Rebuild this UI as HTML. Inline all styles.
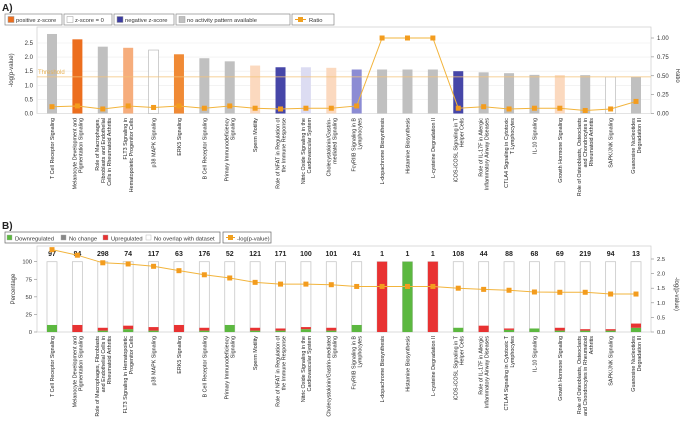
<!DOCTYPE html>
<html><head><meta charset="utf-8"><style>
body{margin:0;background:#fff;width:680px;height:437px;overflow:hidden;font-family:"Liberation Sans",sans-serif}
svg text{font-family:"Liberation Sans",sans-serif}
</style></head><body>
<svg id="fig" width="680" height="437" viewBox="0 0 680 437" xmlns="http://www.w3.org/2000/svg">
<text x="2" y="11" font-size="10" font-weight="bold" fill="#222">A)</text>
<text x="2" y="229" font-size="10" font-weight="bold" fill="#222">B)</text>
<g id="legA"></g>
<g id="legB"></g>
<g id="chartA"></g>
<g id="chartB"></g>
</svg>
<script>
const categories=["T Cell Receptor Signaling","Melanocyte Development and Pigmentation Signaling","Role of Macrophages, Fibroblasts and Endothelial Cells in Rheumatoid Arthritis","FLT3 Signaling in Hematopoietic Progenitor Cells","p38 MAPK Signaling","ERK5 Signaling","B Cell Receptor Signaling","Primary Immunodeficiency Signaling","Sperm Motility","Role of NFAT in Regulation of the Immune Response","Nitric Oxide Signaling in the Cardiovascular System","Cholecystokinin/Gastrin-mediated Signaling","FcγRIIB Signaling in B Lymphocytes","L-dopachrome Biosynthesis","Histamine Biosynthesis","L-cysteine Degradation II","iCOS-iCOSL Signaling in T Helper Cells","Role of IL-17F in Allergic Inflammatory Airway Diseases","CTLA4 Signaling in Cytotoxic T Lymphocytes","IL-10 Signaling","Growth Hormone Signaling","Role of Osteoblasts, Osteoclasts and Chondrocytes in Rheumatoid Arthritis","SAPK/JNK Signaling","Guanosine Nucleotides Degradation III"];
const labelLinesA=[["T Cell Receptor Signaling"],["Melanocyte Development and","Pigmentation Signaling"],["Role of Macrophages,","Fibroblasts and Endothelial","Cells in Rheumatoid Arthritis"],["FLT3 Signaling in","Hematopoietic Progenitor Cells"],["p38 MAPK Signaling"],["ERK5 Signaling"],["B Cell Receptor Signaling"],["Primary Immunodeficiency","Signaling"],["Sperm Motility"],["Role of NFAT in Regulation of","the Immune Response"],["Nitric Oxide Signaling in the","Cardiovascular System"],["Cholecystokinin/Gastrin-","mediated Signaling"],["FcγRIIB Signaling in B","Lymphocytes"],["L-dopachrome Biosynthesis"],["Histamine Biosynthesis"],["L-cysteine Degradation II"],["iCOS-iCOSL Signaling in T","Helper Cells"],["Role of IL-17F in Allergic","Inflammatory Airway Diseases"],["CTLA4 Signaling in Cytotoxic","T Lymphocytes"],["IL-10 Signaling"],["Growth Hormone Signaling"],["Role of Osteoblasts, Osteoclasts","and Chondrocytes in","Rheumatoid Arthritis"],["SAPK/JNK Signaling"],["Guanosine Nucleotides","Degradation III"]];
const labelLinesB=[["T Cell Receptor Signaling"],["Melanocyte Development and","Pigmentation Signaling"],["Role of Macrophages, Fibroblasts","and Endothelial Cells in","Rheumatoid Arthritis"],["FLT3 Signaling in Hematopoietic","Progenitor Cells"],["p38 MAPK Signaling"],["ERK5 Signaling"],["B Cell Receptor Signaling"],["Primary Immunodeficiency","Signaling"],["Sperm Motility"],["Role of NFAT in Regulation of","the Immune Response"],["Nitric Oxide Signaling in the","Cardiovascular System"],["Cholecystokinin/Gastrin-mediated","Signaling"],["FcγRIIB Signaling in B","Lymphocytes"],["L-dopachrome Biosynthesis"],["Histamine Biosynthesis"],["L-cysteine Degradation II"],["iCOS-iCOSL Signaling in T","Helper Cells"],["Role of IL-17F in Allergic","Inflammatory Airway Diseases"],["CTLA4 Signaling in Cytotoxic T","Lymphocytes"],["IL-10 Signaling"],["Growth Hormone Signaling"],["Role of Osteoblasts, Osteoclasts","and Chondrocytes in Rheumatoid","Arthritis"],["SAPK/JNK Signaling"],["Guanosine Nucleotides","Degradation III"]];
const logP=[2.82,2.63,2.37,2.33,2.25,2.1,1.96,1.85,1.7,1.64,1.64,1.62,1.56,1.56,1.56,1.56,1.5,1.46,1.43,1.37,1.36,1.36,1.3,1.3];
const ratio=[0.09,0.1,0.06,0.1,0.08,0.1,0.07,0.1,0.07,0.06,0.07,0.07,0.1,1.0,1.0,1.0,0.07,0.09,0.06,0.07,0.07,0.04,0.06,0.16];
const zCategory=["na","pos3","na","pos1","zero","pos2","na","na","pos0","neg2","neg0","pos0","neg1","na","na","na","neg2","na","na","na","pos0","na","zero","na"];
const threshold=1.3;
const leftTicksA=[0,0.5,1,1.5,2,2.5];
const rightTicksA=[0,0.25,0.5,0.75,1];
const downPct=[10,0,2,4,2,0,2,10,2,2,4,2,10,0,100,0,6,0,3,5,2,2,2,6];
const upPct=[0,10,4,5,5,10,4,0,4,3,3,4,0,100,0,100,0,9,2,0,4,2,2,6];
const totals=[97,84,298,74,117,63,176,52,121,171,100,101,41,1,1,1,108,44,88,68,69,219,94,13];
const pctTicks=[0,25,50,75,100];
const rightTicksB=[0,0.5,1,1.5,2,2.5];

const NS="http://www.w3.org/2000/svg";
function mk(parent,tag,attrs,text){const e=document.createElementNS(NS,tag);for(const k in attrs)e.setAttribute(k,attrs[k]);if(text!==undefined)e.textContent=text;parent.appendChild(e);return e;}
const colors={na:"#c0c0c0",zero:"#ffffff",pos0:"#fbd9bf",pos1:"#f6ad7c",pos2:"#f08a35",pos3:"#ec6e1e",neg0:"#dcdcf2",neg1:"#8c8cd4",neg2:"#4646a8"};
const X0=37,X1=651;
function xPos(i){return 52+i*(636-52)/(categories.length-1);}

const legA=document.getElementById('legA');
const legItemsA=[["positive z-score",5,62,"#ec6e1e"],["z-score = 0",64,112,"#fff"],["negative z-score",114,174,"#3c3ca0"],["no activity pattern available",176,290,"#c0c0c0"]];
legItemsA.forEach(function(it){
 const g=mk(legA,'g',{});
 
 
 mk(g,'rect',{x:it[1],y:14,width:it[2]-it[1],height:11,fill:'#fff',stroke:'#888','stroke-width':0.7});
 mk(g,'rect',{x:it[1]+3,y:16.5,width:6,height:6,fill:it[3],stroke:'#999','stroke-width':0.5});
 mk(g,'text',{x:it[1]+11,y:22.2,'font-size':5.8,fill:'#333'},it[0]);
});
(function(){const g=mk(legA,'g',{});
 
 
 mk(g,'rect',{x:292,y:14,width:42,height:11,fill:'#fff',stroke:'#888','stroke-width':0.7});
 mk(g,'line',{x1:295,y1:19.5,x2:306,y2:19.5,stroke:'#f0a020','stroke-width':1});
 mk(g,'rect',{x:298,y:17,width:5,height:5,fill:'#f0a020'});
 mk(g,'text',{x:309,y:22.2,'font-size':5.8,fill:'#333'},'Ratio');})();

const cA=document.getElementById('chartA');
const topA=27,botA=113.5;
function yA(v){return botA-v*28.2;}
function yR(v){return botA-v*75.5;}
mk(cA,'rect',{x:X0,y:topA,width:X1-X0,height:botA-topA,fill:'#fff',stroke:'#ccc','stroke-width':0.7});
leftTicksA.forEach(function(t){
 const y=yA(t);
 mk(cA,'line',{x1:X0,y1:y,x2:X1,y2:y,stroke:'#ececec','stroke-width':0.6});
 const tl=mk(cA,'text',{x:X0-4,y:y+2,'font-size':6,fill:'#333','text-anchor':'end'},t.toFixed(1));
 
 
});
rightTicksA.forEach(function(t){
 const y=yR(t);
 mk(cA,'line',{x1:X1,y1:y,x2:X1+3,y2:y,stroke:'#888','stroke-width':0.6});
 const tl=mk(cA,'text',{x:X1+6,y:y+2,'font-size':6,fill:'#333'},t.toFixed(2));
 
 
});
(function(){const t=mk(cA,'text',{x:0,y:0,'font-size':6,fill:'#333','text-anchor':'middle',transform:'translate(13,'+((topA+botA)/2)+') rotate(-90)'},'-log(p-value)');
 
 
 const t2=mk(cA,'text',{x:0,y:0,'font-size':6,fill:'#333','text-anchor':'middle',transform:'translate(676,'+yR(0.5)+') rotate(90)'},'Ratio');
 
 })();
logP.forEach(function(v,i){
 const y=yA(v);
 const r=mk(cA,'rect',{x:xPos(i)-5,y:y,width:10,height:botA-y,fill:colors[zCategory[i]],stroke:zCategory[i]==='zero'?'#bbb':'none','stroke-width':0.7});
 
 
});
(function(){const y=yA(threshold);
 const l=mk(cA,'line',{x1:X0,y1:y,x2:X1,y2:y,stroke:'#f3c277','stroke-width':0.8});
 
 
 const t=mk(cA,'text',{x:X0+1,y:y-3,'font-size':6,fill:'#e8b050'},'Threshold');
 
 })();
(function(){let d='';ratio.forEach(function(v,i){d+=(i?'L':'M')+xPos(i)+' '+yR(v);});
 const p=mk(cA,'path',{d:d,fill:'none',stroke:'#f2b43c','stroke-width':1});
 
 
 ratio.forEach(function(v,i){const m=mk(cA,'rect',{x:xPos(i)-2.5,y:yR(v)-2.5,width:5,height:5,fill:'#f39c1e'});
 
 });})();
function drawLabels(parent,lines,yTop){
 lines.forEach(function(ls,i){
  const n=ls.length;
  const t=mk(parent,'text',{'font-size':5.4,fill:'#222','text-anchor':'end',transform:'translate('+(xPos(i))+','+yTop+') rotate(-90)'});
  
  
  ls.forEach(function(s,k){mk(t,'tspan',{x:0,y:(k-(n-1)/2)*6+2},s);});
 });
}
drawLabels(cA,labelLinesA,118);

const legB=document.getElementById('legB');
(function(){mk(legB,'rect',{x:5,y:232,width:215,height:11,fill:'#fff',stroke:'#666','stroke-width':0.7});
 const items=[["Downregulated",7,"#5cb840"],["No change",61,"#888"],["Upregulated",103,"#e83232"],["No overlap with dataset",146,"#fff"]];
 items.forEach(function(it){const g=mk(legB,'g',{});
  
  
  mk(g,'rect',{x:it[1],y:235,width:5,height:5,fill:it[2],stroke:'#aaa','stroke-width':0.4});
  mk(g,'text',{x:it[1]+8,y:240.5,'font-size':5.8,fill:'#333'},it[0]);});
 mk(legB,'rect',{x:223,y:232,width:48,height:11,fill:'#fff',stroke:'#666','stroke-width':0.7});
 mk(legB,'line',{x1:226,y1:237.5,x2:235,y2:237.5,stroke:'#f0a020','stroke-width':1});
 mk(legB,'rect',{x:228,y:235,width:5,height:5,fill:'#f0a020'});
 const t=mk(legB,'text',{x:237,y:240.5,'font-size':5.8,fill:'#333'},'-log(p-value)');
 
 })();

const cB=document.getElementById('chartB');
const topB=246,botB=332;
function yP(v){return botB-v*0.703;}
function yL(v){return botB-v*29.2;}
mk(cB,'rect',{x:X0,y:topB,width:X1-X0,height:botB-topB,fill:'#fff',stroke:'#ccc','stroke-width':0.7});
pctTicks.forEach(function(t){const y=yP(t);
 mk(cB,'line',{x1:X0-3,y1:y,x2:X0,y2:y,stroke:'#888','stroke-width':0.6});
 const tl=mk(cB,'text',{x:X0-5,y:y+2,'font-size':5.8,fill:'#333','text-anchor':'end'},String(t));
 
 });
rightTicksB.forEach(function(t){const y=yL(t);
 mk(cB,'line',{x1:X1,y1:y,x2:X1+3,y2:y,stroke:'#888','stroke-width':0.6});
 const tl=mk(cB,'text',{x:X1+6,y:y+2,'font-size':5.8,fill:'#333'},t.toFixed(1));
 
 });
(function(){const t=mk(cB,'text',{x:0,y:0,'font-size':6,fill:'#333','text-anchor':'middle',transform:'translate(15,'+((topB+botB)/2)+') rotate(-90)'},'Percentage');
 
 
 const t2=mk(cB,'text',{x:0,y:0,'font-size':6,fill:'#333','text-anchor':'middle',transform:'translate(675,'+yL(1.3)+') rotate(90)'},'-log(p-value)');
 
 })();
categories.forEach(function(c,i){
 const x=xPos(i)-5;
 const bg=mk(cB,'rect',{x:x,y:yP(100),width:10,height:botB-yP(100),fill:'#fff',stroke:'#c8c8c8','stroke-width':0.8});
 
 
 const gd=downPct[i],gu=upPct[i];
 if(gd>0){const r=mk(cB,'rect',{x:x,y:yP(gd),width:10,height:botB-yP(gd),fill:'#5cb840'});
  
  }
 if(gu>0){const r=mk(cB,'rect',{x:x,y:yP(gd+gu),width:10,height:yP(gd)-yP(gd+gu),fill:'#e83232'});
  
  }
 const t=mk(cB,'text',{x:xPos(i),y:256,'font-size':7,'font-weight':'bold',fill:'#222','text-anchor':'middle'},String(totals[i]));
 
 
});
(function(){let d='';logP.forEach(function(v,i){d+=(i?'L':'M')+xPos(i)+' '+yL(v);});
 const p=mk(cB,'path',{d:d,fill:'none',stroke:'#f2b43c','stroke-width':1});
 
 
 logP.forEach(function(v,i){const m=mk(cB,'rect',{x:xPos(i)-2.5,y:yL(v)-2.5,width:5,height:5,fill:'#f39c1e'});
  
  });})();
drawLabels(cB,labelLinesB,336);
</script>
</body></html>
